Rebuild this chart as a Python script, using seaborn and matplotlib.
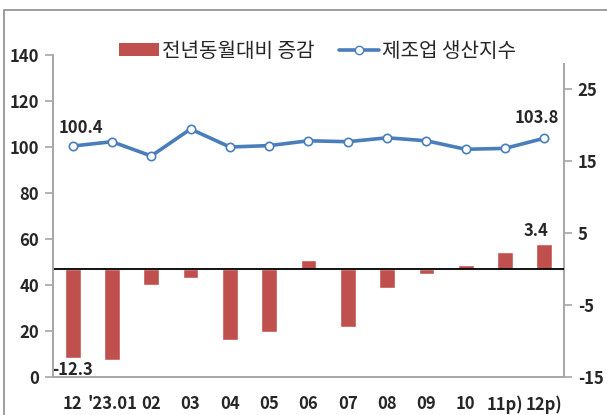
import numpy as np
import matplotlib
matplotlib.use("Agg")
import matplotlib.pyplot as plt
import seaborn as sns
from matplotlib.patches import Rectangle, Patch
from matplotlib.lines import Line2D

months = ["12", "'23.01", "02", "03", "04", "05", "06", "07", "08", "09", "10", "11p)", "12p)"]
production_index = [100.4, 102.3, 96.1, 107.8, 100.0, 100.6, 102.7, 102.3, 104.0, 102.7, 99.0, 99.4, 103.8]
yoy_change = [-12.3, -12.6, -2.2, -1.2, -9.9, -8.8, 1.2, -8.1, -2.7, -0.7, 0.5, 2.3, 3.4]

sns.set_style("white")
plt.rcParams['font.family'] = ['Noto Sans CJK KR', 'DejaVu Sans']
plt.rcParams['axes.unicode_minus'] = False

bar_color = "#C0504D"
line_color = "#4A7EBB"
axis_color = "#A6A6A6"

fig = plt.figure(figsize=(6.07, 4.15), dpi=100)
ax = fig.add_axes([0.0873, 0.0916, 0.8418, 0.7759])
ax2 = ax.twinx()

x = np.arange(len(months))

# bars on the right axis
sns.barplot(x=x, y=yoy_change, ax=ax2, color=bar_color, width=0.4,
            saturation=1, native_scale=True)
ax2.axhline(0, color="black", lw=1.3, zorder=5)

# line on the left axis
sns.lineplot(x=x, y=production_index, ax=ax, color=line_color, lw=2.6,
             marker="o", markersize=6, markerfacecolor="white",
             markeredgecolor=line_color, markeredgewidth=1.2)
ax.set_zorder(ax2.get_zorder() + 1)
ax.patch.set_visible(False)

ax.set_xlim(-0.5, len(months) - 0.5)
ax.set_ylim(0, 140)
ax2.set_ylim(-15, 29.7)

ax.set_yticks(range(0, 141, 20))
ax2.set_yticks([-15, -5, 5, 15, 25])

ax.set_xticks(np.arange(-0.5, len(months), 1))
ax.set_xticklabels([])
ax.set_xticks(x, minor=True)
ax.set_xticklabels(months, minor=True)
ax2.set_xticks([])

for a in (ax, ax2):
    for s in a.spines.values():
        s.set_visible(False)

ax.spines["left"].set_visible(True)
ax.spines["bottom"].set_visible(True)
ax2.spines["right"].set_visible(True)
for s in (ax.spines["left"], ax.spines["bottom"], ax2.spines["right"]):
    s.set_color(axis_color)
    s.set_linewidth(1.4)
ax2.spines["right"].set_bounds(-15, 28.5)

ax.tick_params(axis="y", which="major", direction="out", length=6, color=axis_color,
               width=1.2, labelsize=12, pad=4)
ax.tick_params(axis="x", which="major", direction="out", length=5, color=axis_color, width=1.2)
ax.tick_params(axis="x", which="minor", length=0, labelsize=12, pad=13)
ax2.tick_params(axis="y", direction="out", length=6, color=axis_color, width=1.2,
                labelsize=12, pad=4)

for lab in ax.get_yticklabels() + ax2.get_yticklabels() + ax.get_xticklabels(minor=True):
    lab.set_fontweight("bold")

ax.set_xlabel("")
ax.set_ylabel("")
ax2.set_ylabel("")

# data labels
ax.text(0.2, production_index[0] + 4, "100.4", ha="center", va="bottom",
        fontsize=12, fontweight="bold")
ax.text(11.8, production_index[-1] + 5, "103.8", ha="center", va="bottom",
        fontsize=12, fontweight="bold")
ax2.text(0.0, yoy_change[0] - 0.5, "-12.3", ha="center", va="top",
         fontsize=12, fontweight="bold")
ax2.text(11.8, yoy_change[-1] + 0.6, "3.4", ha="center", va="bottom",
         fontsize=12, fontweight="bold")

# legend
handles = [
    Patch(facecolor=bar_color, edgecolor="none"),
    Line2D([0], [0], color=line_color, lw=2.6, marker="o", markersize=6,
           markerfacecolor="white", markeredgecolor=line_color),
]
fig.legend(handles, ["전년동월대비 증감", "제조업 생산지수"], loc="center",
           bbox_to_anchor=(0.523, 0.877), ncol=2, frameon=False, fontsize=14.5,
           handlelength=2.0, handleheight=0.6, handletextpad=0.15, columnspacing=1.2)

# outer frame
fig.patches.append(Rectangle((4 / 607, -0.2), 1.2, 1.2 - 10 / 415,
                             transform=fig.transFigure, fill=False,
                             edgecolor="#8C8C8C", lw=1.2))

fig.savefig("out.png", dpi=100)
